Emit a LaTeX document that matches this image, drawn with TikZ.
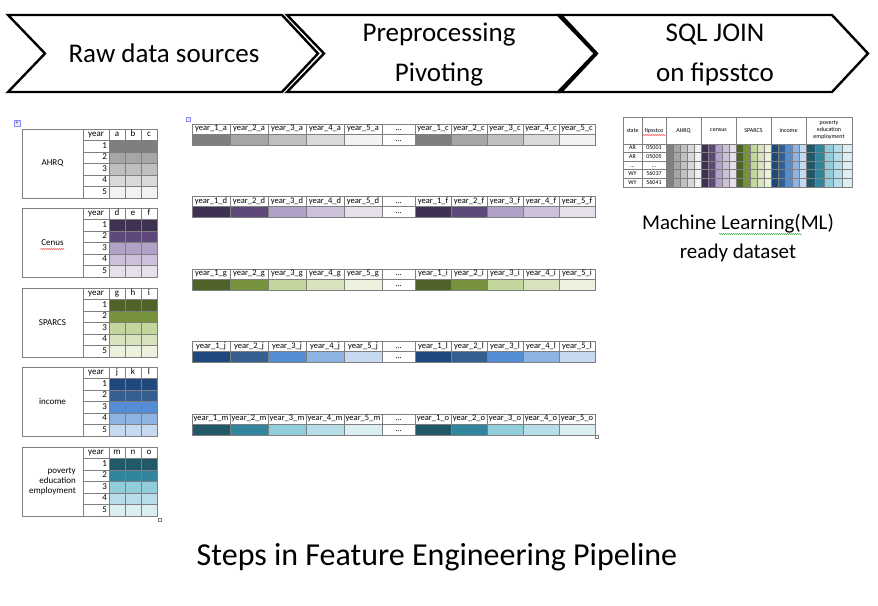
\documentclass[tikz,border=0pt]{standalone}
\usepackage{fontspec}
\setmainfont{Carlito}
\usetikzlibrary{decorations.pathmorphing}

% shades, darkest first
\definecolor{g1}{HTML}{7F7F7F}\definecolor{g2}{HTML}{A6A6A6}\definecolor{g3}{HTML}{BFBFBF}\definecolor{g4}{HTML}{D9D9D9}\definecolor{g5}{HTML}{F2F2F2}
\definecolor{p1}{HTML}{3F3151}\definecolor{p2}{HTML}{5F497A}\definecolor{p3}{HTML}{B2A1C7}\definecolor{p4}{HTML}{CCC0DA}\definecolor{p5}{HTML}{E5E0EC}
\definecolor{s1}{HTML}{4F6228}\definecolor{s2}{HTML}{76923C}\definecolor{s3}{HTML}{C3D69B}\definecolor{s4}{HTML}{D7E3BC}\definecolor{s5}{HTML}{EBF1DD}
\definecolor{b1}{HTML}{1F497D}\definecolor{b2}{HTML}{365F91}\definecolor{b3}{HTML}{548DD4}\definecolor{b4}{HTML}{8DB3E2}\definecolor{b5}{HTML}{C6D9F1}
\definecolor{t1}{HTML}{215968}\definecolor{t2}{HTML}{31859C}\definecolor{t3}{HTML}{92CDDC}\definecolor{t4}{HTML}{B7DDE8}\definecolor{t5}{HTML}{DAEEF3}
\definecolor{rule}{HTML}{7F7F7F}

\tikzstyle{chevron}=[draw, line width=2.4pt]
\tikzstyle{stepText}=[align=center, font=\fontsize{27}{40}\selectfont]
\tikzstyle{cell}=[draw=rule, line width=0.7pt, inner sep=0pt, text height=6pt, text depth=1.8pt, font=\fontsize{9}{10}\selectfont]
\tikzstyle{pivCell}=[cell, text height=5.5pt, text depth=1.6pt, font=\fontsize{8.5}{9}\selectfont]
\tikzstyle{tinyCell}=[cell, text height=4.3pt, text depth=1.3pt, font=\fontsize{6}{7}\selectfont]
\tikzstyle{spellRed}=[draw=red, line width=0.4pt, decorate, decoration={snake, amplitude=0.5pt, segment length=2pt}]
\tikzstyle{spellGreen}=[spellRed, draw=green!60!black]
\tikzstyle{handle}=[draw=blue!45, fill=blue!8, line width=0.4pt, minimum size=6pt, inner sep=0pt, font=\fontsize{6}{6}\selectfont]

\begin{document}
\begin{tikzpicture}[x=1pt, y=-1pt]
    \useasboundingbox (0,0) rectangle (878,605);

    % steps
    \foreach \x in {8, 287, 558}
        \draw[chevron] (\x,15) -- ++(274,0) -- ++(36,38.5) -- ++(-36,38.5) -- ++(-274,0) -- ++(37,-38.5) -- cycle;
    \node[stepText] (step1) at (164,53) {Raw data sources};
    \node[stepText] (step2) at (439,55) {Preprocessing\\Pivoting};
    \node[stepText] (step3) at (715,55) {SQL JOIN\\on fipsstco};

    % raw sources
    \foreach \gi/\gy/\lab/\la/\lb/\lc/\sh in {1/129/AHRQ/a/b/c/g, 2/208/Cenus/d/e/f/p, 3/288/SPARCS/g/h/i/s, 4/367/income/j/k/l/b, 5/447/{poverty\\education\\employment}/m/n/o/t} {
        \node[cell, minimum width=61pt, minimum height=69pt, align=right, text height=, text depth=] (src\gi) at (52.5,\gy+34.5) {\lab};
        \node[cell, minimum width=26pt, minimum height=11.5pt] (yr\gi-0) at (96,\gy+5.75) {year};
        \foreach \rw in {1,...,5}
            \node[cell, minimum width=26pt, minimum height=11.5pt, text width=22pt, align=right] (yr\gi-\rw) at (96,\gy+5.75+11.5*\rw) {\rw};
        \foreach \ltr/\x in {\la/117, \lb/133, \lc/149} {
            \node[cell, minimum width=16pt, minimum height=11.5pt] (hd-\ltr) at (\x,\gy+5.75) {\ltr};
            \foreach \rw in {1,...,5}
                \node[cell, minimum width=16pt, minimum height=11.5pt, fill=\sh\rw] (src-\ltr\rw) at (\x,\gy+5.75+11.5*\rw) {};
        }
    }
    \draw[spellRed] (40.5,249) -- (64.5,249);

    % pivoted rows
    \foreach \gi/\gy/\la/\lc/\sh in {1/124/a/c/g, 2/196.5/d/f/p, 3/269/g/i/s, 4/341.5/j/l/b, 5/414/m/o/t} {
        \foreach \rw in {1,...,5} {
            \node[pivCell, minimum width=38pt, minimum height=10pt] (piv-\la\rw) at (173+38*\rw,\gy+5) {year\_\rw\_\la};
            \node[pivCell, minimum width=38pt, minimum height=11pt, fill=\sh\rw] (val-\la\rw) at (173+38*\rw,\gy+15.5) {};
            \node[pivCell, minimum width=36pt, minimum height=10pt] (piv-\lc\rw) at (397+36*\rw,\gy+5) {year\_\rw\_\lc};
            \node[pivCell, minimum width=36pt, minimum height=11pt, fill=\sh\rw] (val-\lc\rw) at (397+36*\rw,\gy+15.5) {};
        }
        \node[pivCell, minimum width=33pt, minimum height=10pt] (dots\gi) at (398.5,\gy+5) {...};
        \node[pivCell, minimum width=33pt, minimum height=11pt] (dotsv\gi) at (398.5,\gy+15.5) {...};
    }

    % joined table
    \node[tinyCell, minimum width=19pt, minimum height=27pt] (state) at (632.5,130.5) {state};
    \node[tinyCell, minimum width=24pt, minimum height=27pt] (fips) at (654,130.5) {fipsstco};
    \foreach \gi/\x/\w/\lab in {1/666/35/AHRQ, 2/701/35/census, 3/736/35/SPARCS, 4/771/35/income, 5/806/46/{poverty\\education\\employment}}
        \node[tinyCell, minimum width=\w pt, minimum height=27pt, align=center, text height=, text depth=] (grp\gi) at (\x+\w/2,130.5) {\lab};
    \foreach \rw/\st/\fp in {1/AR/05001, 2/AR/05005, 3/{\ldots}/{\ldots}, 4/WY/56037, 5/WY/56041} {
        \node[tinyCell, minimum width=19pt, minimum height=8.6pt] (st\rw) at (632.5,139.7+8.6*\rw) {\st};
        \node[tinyCell, minimum width=24pt, minimum height=8.6pt] (fp\rw) at (654,139.7+8.6*\rw) {\fp};
        \foreach \x/\sw/\sh in {666/7/g, 701/7/p, 736/7/s, 771/7/b, 806/9.2/t}
            \foreach \sc in {1,...,5}
                \node[tinyCell, minimum width=\sw pt, minimum height=8.6pt, fill=\sh\sc] (\sh\rw-\sc) at (\x+\sw*\sc-\sw/2,139.7+8.6*\rw) {};
    }
    \draw[spellRed] (642.5,135) -- (665.5,135);

    \node[align=center, font=\fontsize{21}{29}\selectfont] (mlText) at (738,238) {Machine Learning(ML)\\ready dataset};
    \draw[spellGreen] (719,234) -- (802,234);

    % word handles
    \node[handle] (handle1) at (17,123) {+};
    \node[handle, minimum size=4pt] (handle2) at (188,119) {};
    \node[draw=gray, line width=0.3pt, minimum size=3pt, inner sep=0pt] (corner1) at (160,520) {};
    \node[draw=gray, line width=0.3pt, minimum size=3pt, inner sep=0pt] (corner2) at (597,437) {};

    \node[font=\fontsize{32}{36}\selectfont] (caption) at (437,557) {Steps in Feature Engineering Pipeline};

\end{tikzpicture}
\end{document}
